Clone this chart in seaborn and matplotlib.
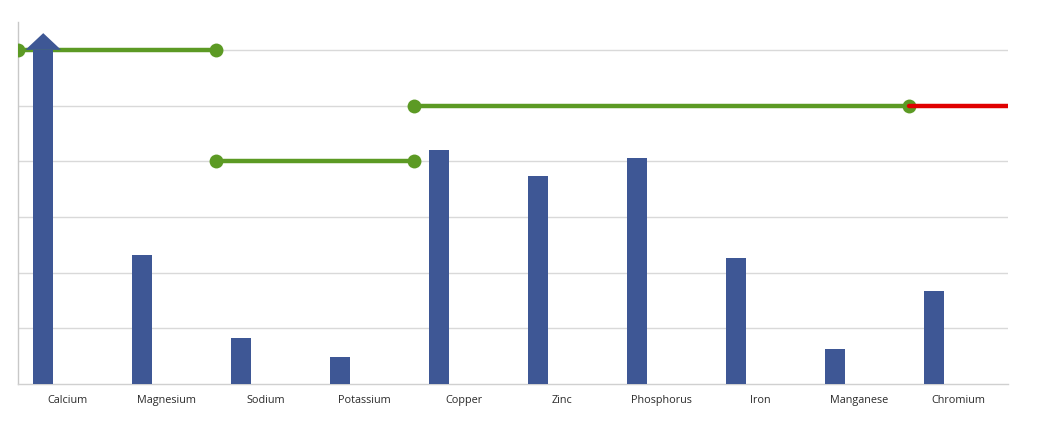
import numpy as np
import pandas as pd
import matplotlib
matplotlib.use("Agg")
import matplotlib.pyplot as plt
import seaborn as sns

# data
minerals = ["Calcium", "Magnesium", "Sodium", "Potassium", "Copper",
            "Zinc", "Phosphorus", "Iron", "Manganese", "Chromium"]
amounts = [6.3, 2.32, 0.83, 0.48, 4.2, 3.73, 4.06, 2.26, 0.63, 1.67]
# reference levels drawn as step lines over the categories
ref_level = [6, 6, 4, 4, 5, 5, 5, 5, 5, 5]
ref_color = ["green", "green", "green", "green", "green",
             "green", "green", "green", "green", "red"]

cap = 6.0          # bars above this get an arrow head
y_max = 6.5

bar_col = "#3E5795"
line_cols = {"green": "#5C9A24", "red": "#E00000"}

sns.set_theme(style="white")
plt.rcParams["font.family"] = ["Open Sans", "DejaVu Sans"]

fig = plt.figure(figsize=(10.54, 4.43), dpi=100)
ax = fig.add_axes([18 / 1054, 1 - 384 / 443, 990 / 1054, 362 / 443])

# clustered bars, second series empty -> bar sits left in each slot
df = pd.DataFrame({
    "mineral": minerals * 2,
    "value": [min(v, cap) for v in amounts] + [0.0] * len(minerals),
    "series": ["main"] * len(minerals) + ["other"] * len(minerals),
})
sns.barplot(data=df, x="mineral", y="value", hue="series",
            hue_order=["main", "other"], palette=[bar_col, bar_col],
            saturation=1, width=0.98, gap=0.58, linewidth=0,
            legend=False, ax=ax, zorder=5)

# arrow head for values beyond the cap
for i, v in enumerate(amounts):
    if v > cap:
        xc = i - 0.245
        ax.fill([xc - 0.18, xc, xc + 0.18], [cap, v, cap],
                color=bar_col, lw=0, zorder=5)

# step lines: one segment per run of equal level/colour
runs = []
start = 0
for i in range(1, len(ref_level) + 1):
    if i == len(ref_level) or ref_level[i] != ref_level[start] or ref_color[i] != ref_color[start]:
        runs.append((start, i - 1, ref_level[start], ref_color[start]))
        start = i
for s, e, lvl, c in runs:
    seg = pd.DataFrame({"x": [s - 0.5, e + 0.5], "y": [lvl, lvl]})
    sns.lineplot(data=seg, x="x", y="y", color=line_cols[c], lw=3.2,
                 marker="o" if c == "green" else None, markersize=10,
                 markeredgewidth=0, ax=ax, zorder=4)

ax.set_xlim(-0.5, len(minerals) - 0.5)
ax.set_ylim(0, y_max)
ax.set_yticks(np.arange(1, 7))
ax.set_yticklabels([])
ax.yaxis.grid(True, color="#d9d9d9", lw=1)
ax.set_axisbelow(True)
ax.set_xlabel("")
ax.set_ylabel("")
ax.set_xticks(range(len(minerals)))
ax.set_xticklabels(minerals, fontsize=7.8, color="#2b2b2b")
ax.tick_params(axis="x", length=0, pad=8)
ax.tick_params(axis="y", length=0)

for sp in ["top", "right"]:
    ax.spines[sp].set_visible(False)
ax.spines["left"].set_color("#c8c8c8")
ax.spines["bottom"].set_color("#d0d0d0")
ax.spines["left"].set_linewidth(1)
ax.spines["bottom"].set_linewidth(1)

fig.savefig("out.png", dpi=100)
